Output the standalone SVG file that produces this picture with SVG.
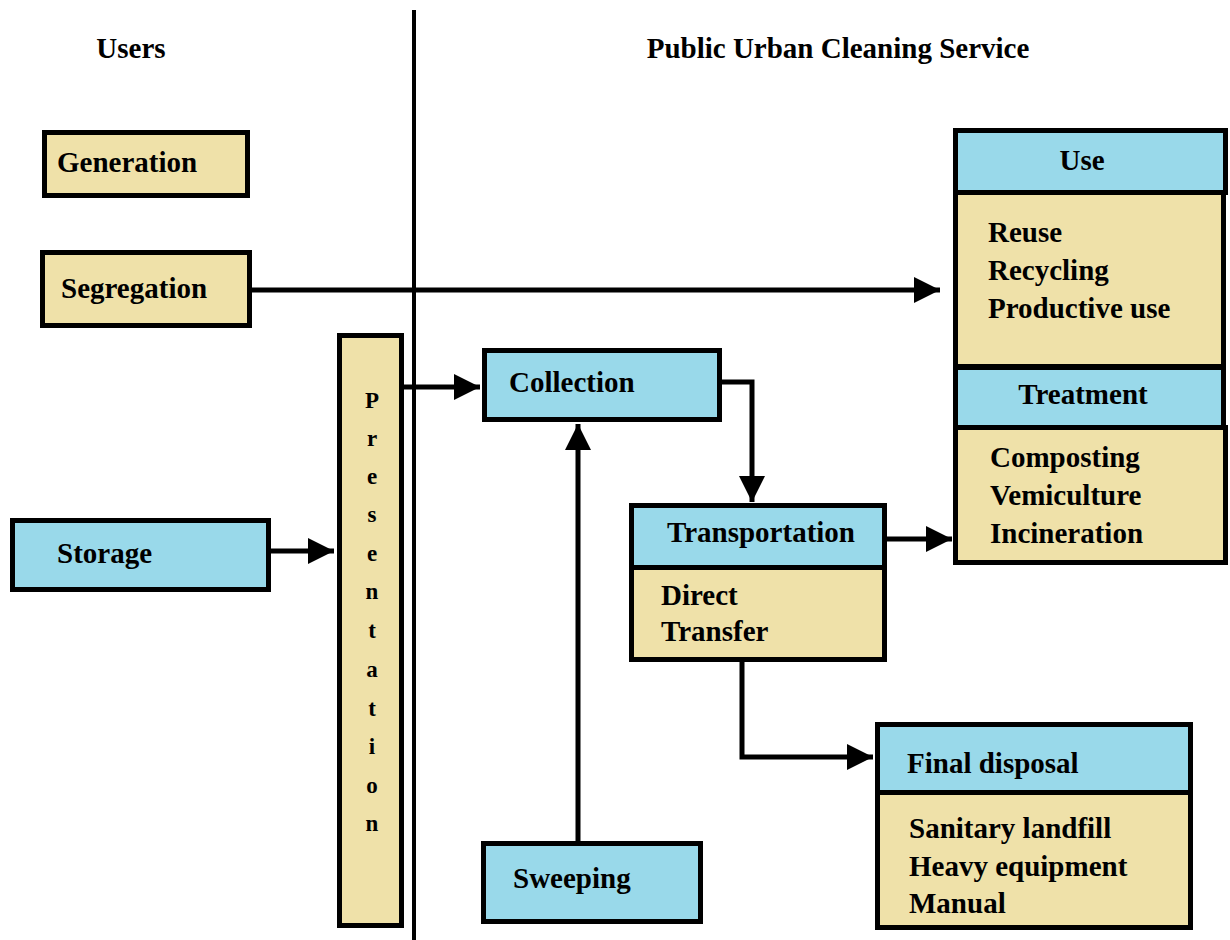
<svg xmlns="http://www.w3.org/2000/svg" width="1230" height="940" viewBox="0 0 1230 940">
<defs>
<style>
.y{fill:#EFE1A9;stroke:#000;stroke-width:5}
.b{fill:#99D9EA;stroke:#000;stroke-width:5}
text{font-family:'Liberation Serif','Times New Roman',Times,serif;font-weight:bold;font-size:29px;fill:#000}
.p{font-size:23px;text-anchor:middle}
.c{text-anchor:middle}
.ln{fill:none;stroke:#000;stroke-width:5}
</style>
<marker id="ah" markerUnits="userSpaceOnUse" markerWidth="28" markerHeight="28" refX="26" refY="13" orient="auto">
<path d="M0,0 L26,13 L0,26 z" fill="#000"/>
</marker>
</defs>
<rect width="1230" height="940" fill="#fff"/>
<text x="131" y="58" class="c">Users</text>
<text x="838" y="58" class="c">Public Urban Cleaning Service</text>
<line x1="414" y1="10" x2="414" y2="940" stroke="#000" stroke-width="4"/>
<g id="connectors">
<line class="ln" x1="252" y1="290" x2="940" y2="290" marker-end="url(#ah)"/>
<line class="ln" x1="271" y1="551" x2="334" y2="551" marker-end="url(#ah)"/>
<line class="ln" x1="404" y1="387" x2="480" y2="387" marker-end="url(#ah)"/>
<polyline class="ln" points="722,382 752,382 752,502" marker-end="url(#ah)"/>
<line class="ln" x1="578" y1="841" x2="578" y2="424" marker-end="url(#ah)"/>
<line class="ln" x1="887" y1="539" x2="952" y2="539" marker-end="url(#ah)"/>
<polyline class="ln" points="742,662 742,757 873,757" marker-end="url(#ah)"/>
</g>
<g id="generation">
<rect class="y" x="44.5" y="132.5" width="203" height="63"/>
<text x="57" y="172">Generation</text>
</g>
<g id="segregation">
<rect class="y" x="42.5" y="252.5" width="207" height="73"/>
<text x="61" y="298">Segregation</text>
</g>
<g id="presentation">
<rect class="y" x="339.5" y="335.5" width="62" height="590"/>
<text class="p" x="372" y="408">P</text>
<text class="p" x="372" y="446">r</text>
<text class="p" x="372" y="484">e</text>
<text class="p" x="372" y="522">s</text>
<text class="p" x="372" y="561">e</text>
<text class="p" x="372" y="599">n</text>
<text class="p" x="372" y="638">t</text>
<text class="p" x="372" y="677">a</text>
<text class="p" x="372" y="716">t</text>
<text class="p" x="372" y="754">i</text>
<text class="p" x="372" y="793">o</text>
<text class="p" x="372" y="831">n</text>
</g>
<g id="storage">
<rect class="b" x="12.5" y="520.5" width="256" height="69"/>
<text x="57" y="563">Storage</text>
</g>
<g id="collection">
<rect class="b" x="484.5" y="350.5" width="235" height="69"/>
<text x="509" y="392">Collection</text>
</g>
<g id="sweeping">
<rect class="b" x="483.5" y="843.5" width="217" height="78"/>
<text x="513" y="888">Sweeping</text>
</g>
<g id="transportation">
<rect class="y" x="631.5" y="567.5" width="253" height="92"/>
<rect class="b" x="631.5" y="505.5" width="253" height="62"/>
<text x="667" y="542">Transportation</text>
<text x="661" y="605">Direct</text>
<text x="661" y="641">Transfer</text>
</g>
<g id="use">
<rect class="y" x="955.5" y="192.5" width="268" height="174"/>
<rect class="b" x="955.5" y="130.5" width="270" height="62"/>
<text class="c" x="1082" y="170">Use</text>
<text x="988" y="242">Reuse</text>
<text x="988" y="280">Recycling</text>
<text x="988" y="318">Productive use</text>
</g>
<g id="treatment">
<rect class="y" x="955.5" y="427.5" width="270" height="135"/>
<rect class="b" x="955.5" y="367.5" width="268" height="60"/>
<text class="c" x="1083" y="404">Treatment</text>
<text x="990" y="467">Composting</text>
<text x="990" y="505">Vemiculture</text>
<text x="990" y="543">Incineration</text>
</g>
<g id="final-disposal">
<rect class="y" x="877.5" y="792.5" width="313" height="135"/>
<rect class="b" x="877.5" y="724.5" width="313" height="68"/>
<text x="907" y="773">Final disposal</text>
<text x="909" y="838">Sanitary landfill</text>
<text x="909" y="876">Heavy equipment</text>
<text x="909" y="913">Manual</text>
</g>
</svg>
